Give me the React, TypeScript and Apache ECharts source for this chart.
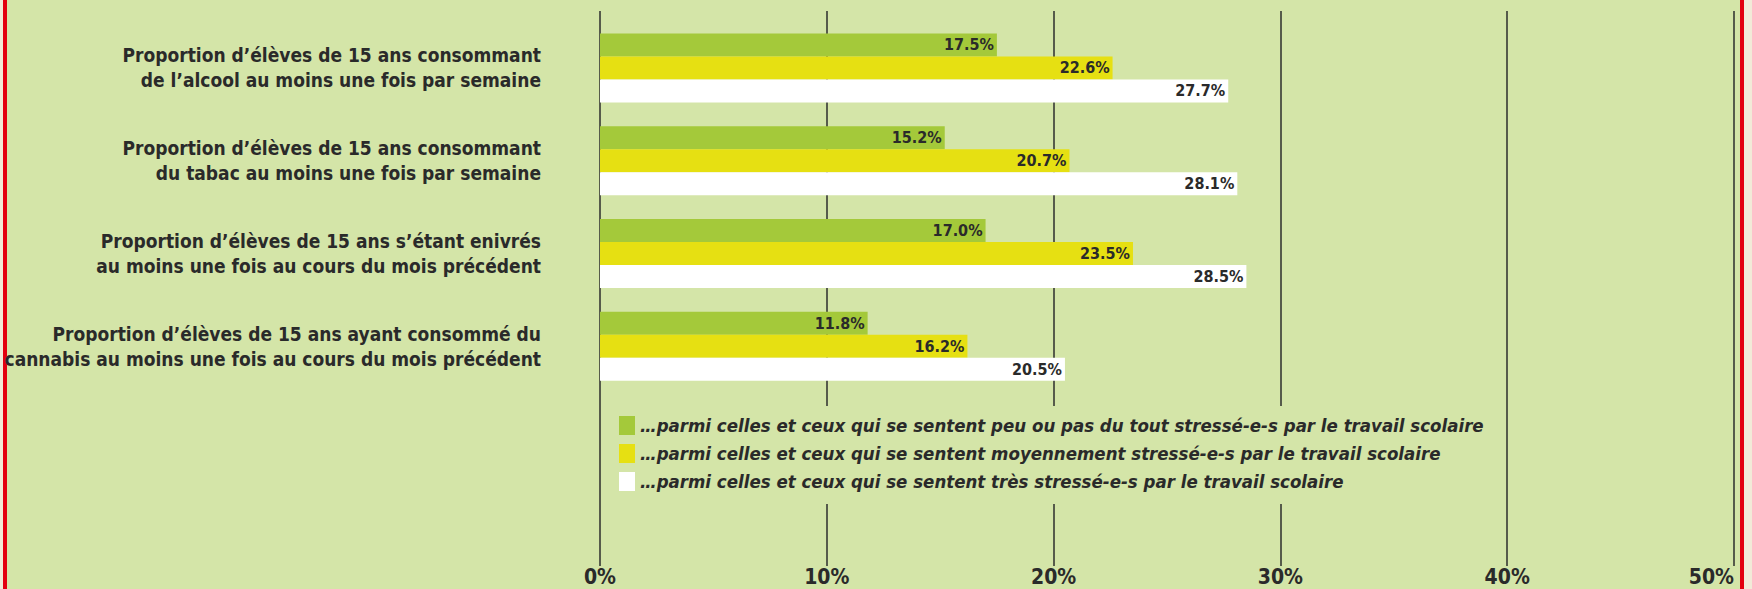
import React, { useEffect, useRef } from "react";
import * as echarts from "echarts";

const categories = [
  "Proportion d’élèves de 15 ans consommant\nde l’alcool au moins une fois par semaine",
  "Proportion d’élèves de 15 ans consommant\ndu tabac au moins une fois par semaine",
  "Proportion d’élèves de 15 ans s’étant enivrés\nau moins une fois au cours du mois précédent",
  "Proportion d’élèves de 15 ans ayant consommé du\ncannabis au moins une fois au cours du mois précédent",
];

const seriesNames = [
  "…parmi celles et ceux qui se sentent peu ou pas du tout stressé-e-s par le travail scolaire",
  "…parmi celles et ceux qui se sentent moyennement stressé-e-s par le travail scolaire",
  "…parmi celles et ceux qui se sentent très stressé-e-s par le travail scolaire",
];

const peuStresses = [17.5, 15.2, 17.0, 11.8];
const moyStresses = [22.6, 20.7, 23.5, 16.2];
const tresStresses = [27.7, 28.1, 28.5, 20.5];

const xMin = 0;
const xMax = 50;
const xStep = 10;

const BG = "#d4e5a8";
const COLORS = ["#a4c93a", "#e6e012", "#ffffff"];
const TEXT = "#2a2a2a";
const FONT =
  "'Liberation Sans Narrow', 'DejaVu Sans Condensed', 'Arial Narrow', 'Liberation Sans', sans-serif";

export default function App() {
  const ref = useRef<HTMLDivElement>(null);

  useEffect(() => {
    if (!ref.current) return;
    const chart = echarts.init(ref.current, undefined, { renderer: "svg" });
    const values = [peuStresses, moyStresses, tresStresses];
    const option: any = {
      animation: false,
      backgroundColor: BG,
      textStyle: { fontFamily: FONT },
      grid: [
        { left: 600, right: 18, top: 11, bottom: 23, outerBoundsMode: "none", containLabel: false },
        { left: 600, right: 18, top: 21.5, height: 371, outerBoundsMode: "none", containLabel: false },
      ],
      xAxis: [
        {
          gridIndex: 0,
          type: "value",
          min: xMin,
          max: xMax,
          interval: xStep,
          axisLine: { show: false },
          axisTick: { show: false },
          splitLine: { show: true, lineStyle: { color: "#2d2d2d", width: 1.5 } },
          axisLabel: {
            formatter: "{value}%",
            fontSize: 21,
            fontWeight: "bold",
            color: TEXT,
            fontFamily: FONT,
            margin: 0,
            alignMaxLabel: "right",
          },
        },
        { gridIndex: 1, type: "value", min: xMin, max: xMax, show: false },
      ],
      yAxis: [
        { gridIndex: 0, type: "value", show: false },
        {
          gridIndex: 1,
          type: "category",
          data: categories,
          inverse: true,
          axisLine: { show: false },
          axisTick: { show: false },
          splitLine: { show: false },
          axisLabel: {
            fontSize: 19,
            fontWeight: "bold",
            color: TEXT,
            fontFamily: FONT,
            margin: 59,
            lineHeight: 25,
            align: "right",
            padding: [0, 0, 7, 0],
          },
        },
      ],
      legend: {
        orient: "vertical",
        left: 609,
        top: 406,
        padding: [10, 10, 13, 10],
        itemWidth: 16,
        itemHeight: 19,
        itemGap: 9,
        icon: "rect",
        backgroundColor: BG,
        selectedMode: false,
        data: seriesNames,
        textStyle: {
          fontSize: 18.5,
          fontWeight: "bold",
          fontStyle: "italic",
          color: TEXT,
          fontFamily: FONT,
        },
      },
      graphic: [
        { type: "rect", shape: { x: 0, y: 0, width: 3, height: 589 }, style: { fill: "#f2ead8" } },
        { type: "rect", shape: { x: 3, y: 0, width: 4, height: 589 }, style: { fill: "#e3000f" } },
        { type: "rect", shape: { x: 1740, y: 0, width: 4, height: 589 }, style: { fill: "#e3000f" } },
        { type: "rect", shape: { x: 1744, y: 0, width: 8, height: 589 }, style: { fill: "#f2ead8" } },
      ],
      series: seriesNames.map((name, i) => ({
        name,
        type: "bar",
        xAxisIndex: 1,
        yAxisIndex: 1,
        data: values[i],
        barWidth: 23,
        barGap: "0%",
        itemStyle: { color: COLORS[i] },
        label: {
          show: true,
          position: "insideRight",
          distance: 3,
          formatter: (p: any) => Number(p.value).toFixed(1) + "%",
          fontSize: 16,
          fontWeight: "bold",
          color: TEXT,
          fontFamily: FONT,
        },
      })),
    };
    chart.setOption(option);
    return () => chart.dispose();
  }, []);

  return (
    <div
      ref={ref}
      style={{ position: "absolute", left: 0, top: 0, width: 1752, height: 589 }}
    />
  );
}
